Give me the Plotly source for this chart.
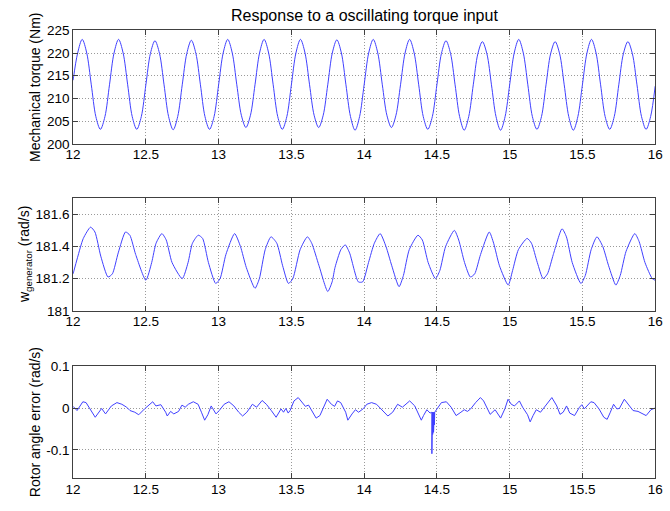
import plotly.graph_objects as go

# ---- Mechanical torque (Nm), sampled every 1/32 s from t = 12 to 16 ----
torque_t0 = 12.0
torque_dt = 1.0 / 32.0
torque = [
    214.0, 220.0, 223.0, 220.0, 213.0, 206.0, 203.2, 206.0,
    213.0, 220.0, 223.0, 220.0, 213.0, 206.0, 203.2, 206.0,
    213.0, 219.9, 222.7, 219.9, 213.0, 206.0, 203.1, 206.0,
    213.0, 219.9, 222.8, 219.9, 213.0, 206.0, 203.2, 206.0,
    213.0, 220.0, 223.0, 220.0, 213.0, 206.3, 203.6, 206.3,
    213.0, 220.0, 223.0, 220.0, 213.0, 206.0, 203.2, 206.0,
    213.0, 220.0, 223.0, 220.0, 213.0, 206.3, 203.6, 206.3,
    213.0, 220.0, 222.9, 220.0, 213.0, 206.0, 203.0, 206.0,
    213.0, 220.0, 223.0, 220.0, 213.0, 206.3, 203.6, 206.3,
    213.0, 220.0, 223.0, 220.0, 213.0, 206.0, 203.2, 206.0,
    213.0, 219.9, 222.7, 219.9, 213.0, 206.0, 203.0, 206.0,
    213.0, 219.8, 222.5, 219.8, 213.0, 206.0, 203.0, 206.0,
    213.0, 220.0, 223.0, 220.0, 213.0, 206.0, 203.2, 206.0,
    213.0, 219.8, 222.5, 219.8, 213.0, 206.0, 203.0, 206.0,
    213.0, 220.0, 223.0, 220.0, 213.0, 206.0, 203.2, 206.0,
    213.0, 219.8, 222.5, 219.8, 213.0, 206.0, 203.2, 206.0,
    212.7,
]
torque_time = [torque_t0 + i * torque_dt for i in range(len(torque))]

# ---- Generator speed (rad/s) ----
speed_time = [
    12.00, 12.03, 12.07, 12.12, 12.15, 12.19, 12.24, 12.27, 12.31, 12.36,
    12.39, 12.43, 12.50, 12.54, 12.57, 12.61, 12.64, 12.68, 12.75, 12.79,
    12.82, 12.86, 12.89, 12.93, 12.98, 13.01, 13.05, 13.11, 13.15, 13.19,
    13.25, 13.28, 13.32, 13.36, 13.40, 13.44, 13.48, 13.51, 13.56, 13.61,
    13.64, 13.69, 13.75, 13.78, 13.80, 13.84, 13.87, 13.90, 13.96, 13.99,
    14.03, 14.07, 14.11, 14.15, 14.19, 14.24, 14.27, 14.31, 14.37, 14.40,
    14.44, 14.49, 14.52, 14.56, 14.62, 14.65, 14.69, 14.73, 14.76, 14.80,
    14.86, 14.89, 14.93, 14.99, 15.02, 15.06, 15.12, 15.15, 15.19, 15.23,
    15.26, 15.30, 15.36, 15.39, 15.43, 15.49, 15.52, 15.56, 15.60, 15.64,
    15.68, 15.73, 15.76, 15.80, 15.86, 15.89, 15.93, 15.98, 16.00,
]
speed = [
    181.23, 181.33, 181.45, 181.52, 181.49, 181.34, 181.21, 181.23, 181.36, 181.49,
    181.47, 181.35, 181.19, 181.30, 181.42, 181.48, 181.44, 181.30, 181.20, 181.30,
    181.42, 181.47, 181.45, 181.30, 181.17, 181.20, 181.35, 181.48, 181.40, 181.27,
    181.14, 181.20, 181.38, 181.46, 181.42, 181.28, 181.17, 181.20, 181.38, 181.46,
    181.42, 181.28, 181.12, 181.18, 181.27, 181.38, 181.41, 181.36, 181.18, 181.18,
    181.30, 181.42, 181.48, 181.40, 181.28, 181.15, 181.22, 181.38, 181.47, 181.44,
    181.30, 181.20, 181.25, 181.40, 181.50, 181.44, 181.30, 181.21, 181.23, 181.35,
    181.49, 181.42, 181.28, 181.16, 181.25, 181.38, 181.45, 181.42, 181.30, 181.20,
    181.23, 181.35, 181.51, 181.46, 181.30, 181.17, 181.22, 181.38, 181.46, 181.40,
    181.28, 181.16, 181.22, 181.37, 181.48, 181.43, 181.30, 181.20, 181.19,
]

# ---- Rotor angle error (rad/s) ----
error_time = [
    12.000, 12.027, 12.067, 12.089, 12.152, 12.196, 12.223, 12.263, 12.301, 12.335,
    12.368, 12.391, 12.424, 12.451, 12.491, 12.513, 12.547, 12.569, 12.603, 12.636,
    12.647, 12.670, 12.692, 12.725, 12.748, 12.770, 12.792, 12.826, 12.859, 12.882,
    12.904, 12.926, 12.949, 12.982, 13.004, 13.038, 13.071, 13.105, 13.138, 13.165,
    13.194, 13.232, 13.261, 13.299, 13.328, 13.362, 13.395, 13.429, 13.446, 13.462,
    13.478, 13.491, 13.518, 13.547, 13.574, 13.596, 13.618, 13.641, 13.670, 13.696,
    13.719, 13.746, 13.775, 13.797, 13.817, 13.839, 13.873, 13.888, 13.917, 13.940,
    13.962, 13.996, 14.018, 14.051, 14.085, 14.129, 14.163, 14.196, 14.230, 14.263,
    14.313, 14.348, 14.379, 14.393, 14.408, 14.431, 14.453, 14.462,
    14.4650, 14.4655, 14.4660, 14.4670, 14.4680, 14.4690, 14.4700, 14.4710, 14.4720,
    14.4730, 14.4740, 14.4750, 14.4760, 14.4770, 14.4780, 14.4790, 14.4800, 14.4810,
    14.4820, 14.4830, 14.4840, 14.4850,
    14.531, 14.565, 14.598, 14.632, 14.665, 14.688, 14.710, 14.732, 14.766, 14.799,
    14.821, 14.844, 14.866, 14.900, 14.938, 14.967, 14.989, 15.011, 15.033, 15.067,
    15.089, 15.123, 15.141, 15.161, 15.183, 15.212, 15.246, 15.290, 15.324, 15.346,
    15.368, 15.391, 15.413, 15.446, 15.480, 15.496, 15.513, 15.558, 15.580, 15.614,
    15.647, 15.670, 15.692, 15.714, 15.737, 15.754, 15.788, 15.815, 15.848, 15.882,
    15.938, 15.971, 15.993, 16.000,
]
error = [
    0.004, -0.006, 0.015, 0.013, -0.022, -0.001, -0.014, 0.005, 0.013, 0.009,
    0.002, -0.006, -0.010, -0.016, -0.002, 0.004, 0.015, 0.005, 0.008, -0.010,
    -0.019, -0.008, -0.014, -0.008, 0.007, 0.002, 0.009, 0.015, 0.009, -0.010,
    -0.029, -0.016, 0.005, -0.014, -0.006, 0.009, 0.015, 0.005, -0.010, -0.019,
    -0.010, 0.009, 0.002, 0.018, 0.009, -0.006, -0.022, -0.002, -0.010, -0.001,
    -0.012, -0.006, 0.017, 0.025, 0.013, 0.004, 0.007, -0.006, -0.024, -0.018,
    0.002, 0.021, 0.009, 0.004, 0.017, 0.013, -0.010, -0.029, -0.014, -0.004,
    -0.010, -0.001, 0.009, 0.013, 0.009, -0.006, -0.019, -0.010, 0.009, 0.002,
    0.017, 0.005, -0.018, -0.029, -0.018, -0.004, -0.012, -0.011,
    -0.010, -0.109, -0.012, -0.063, -0.010, -0.063, -0.010, -0.063, -0.010,
    -0.062, -0.010, -0.060, -0.010, -0.058, -0.010, -0.050, -0.010, -0.045,
    -0.010, -0.040, -0.010, -0.010,
    0.013, 0.015, 0.002, -0.018, -0.010, -0.004, -0.008, -0.002, 0.013, 0.025,
    0.017, 0.002, -0.015, -0.004, -0.024, -0.002, 0.021, 0.009, 0.005, 0.017,
    0.002, -0.016, -0.033, -0.018, -0.004, -0.010, 0.005, 0.025, 0.005, -0.015,
    -0.010, 0.005, -0.012, -0.018, 0.002, 0.008, -0.002, 0.015, 0.013, -0.002,
    -0.022, -0.027, -0.010, 0.009, -0.002, -0.001, 0.021, 0.009, -0.006, -0.008,
    -0.018, -0.004, -0.002, 0.000,
]

# ---- Axis ticks ----
time_ticks = [12, 12.5, 13, 13.5, 14, 14.5, 15, 15.5, 16]
torque_ticks = [200, 205, 210, 215, 220, 225]
speed_ticks = [181, 181.2, 181.4, 181.6]
error_ticks = [-0.1, 0, 0.1]
error_tick_text = ["-0.1", "0", "0.1"]

title_text = "Response to a oscillating torque input"
ylabels = ["Mechanical torque (Nm)", "w<sub>generator</sub> (rad/s)", "Rotor angle error (rad/s)"]

W, H = 670, 511
FONT = "Liberation Sans, Arial, Helvetica, sans-serif"
LINE = "#4040ff"
AXIS = "#404040"

# plot areas in pixels: (left, right, top, bottom)
x_left, x_right = 66.7, 663.0
rows = [(24.0, 141.0), (197.0, 313.0), (370.0, 485.7)]


def ydom(top, bottom):
    return [1 - bottom / H, 1 - top / H]


fig = go.Figure()
fig.add_trace(go.Scatter(x=torque_time, y=torque, mode="lines",
                         line=dict(color=LINE, width=1, shape="spline", smoothing=0.9),
                         xaxis="x", yaxis="y", showlegend=False))
fig.add_trace(go.Scatter(x=speed_time, y=speed, mode="lines",
                         line=dict(color=LINE, width=1, shape="spline", smoothing=0.6),
                         xaxis="x2", yaxis="y2", showlegend=False))
fig.add_trace(go.Scatter(x=error_time, y=error, mode="lines",
                         line=dict(color=LINE, width=1),
                         xaxis="x3", yaxis="y3", showlegend=False))

common_axis = dict(
    showline=True, linecolor=AXIS, linewidth=1, mirror="allticks",
    ticks="inside", ticklen=5, tickcolor=AXIS, tickwidth=1,
    showgrid=True, gridcolor="#9a9a9a", gridwidth=1, griddash="1px,2px",
    zeroline=False, tickfont=dict(family=FONT, size=13.5, color="black"),
    ticklabeloverflow="allow",
)
xdom = [x_left / W, x_right / W]
y_ranges = [[200, 225], [181, 181.7], [-0.168, 0.1]]
y_tick_sets = [(torque_ticks, None), (speed_ticks, None), (error_ticks, error_tick_text)]

layout = dict(
    width=W, height=H, margin=dict(l=0, r=0, t=0, b=0),
    paper_bgcolor="white", plot_bgcolor="white", showlegend=False,
    font=dict(family=FONT, size=13, color="black"),
)
for i, (top, bottom) in enumerate(rows):
    sfx = "" if i == 0 else str(i + 1)
    layout["xaxis" + sfx] = dict(common_axis, domain=xdom, range=[12, 16],
                                 tickvals=time_ticks, anchor="y" + sfx,
                                 ticklabelstandoff=-2)
    tv, tt = y_tick_sets[i]
    yax = dict(common_axis, domain=ydom(top, bottom), range=y_ranges[i],
               tickvals=tv, anchor="x" + sfx)
    if tt is not None:
        yax["ticktext"] = tt
    layout["yaxis" + sfx] = yax

fig.update_layout(**layout)

annotations = [dict(text=title_text, x=(x_left + x_right) / 2 / W, y=1 - 9.0 / H,
                    xref="paper", yref="paper", showarrow=False,
                    xanchor="center", yanchor="middle",
                    font=dict(family=FONT, size=16, color="black"))]
label_x = [27.5, 17.0, 27.5]
for i, (top, bottom) in enumerate(rows):
    annotations.append(dict(text=ylabels[i], textangle=-90,
                            x=label_x[i] / W, y=1 - (top + bottom) / 2 / H,
                            xref="paper", yref="paper", showarrow=False,
                            xanchor="center", yanchor="middle",
                            font=dict(family=FONT, size=14, color="black")))
fig.update_layout(annotations=annotations)

fig.write_html("out.html")
